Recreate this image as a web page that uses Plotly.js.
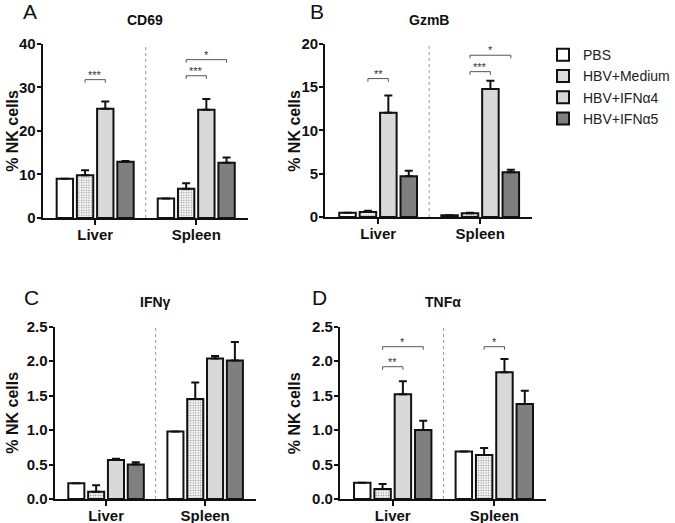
<!DOCTYPE html>
<html>
<head>
<meta charset="utf-8">
<script src="https://cdn.plot.ly/plotly-3.0.1.min.js"></script>
<style>
  html, body { margin: 0; padding: 0; background: #fff; }
  #plot { width: 675px; height: 523px; }
</style>
</head>
<body>
<div id="plot"></div>
<script>
  // categories and groups
  var tissues = ['Liver', 'Spleen'];
  var groups = ['PBS', 'HBV+Medium', 'HBV+IFN\u03b14', 'HBV+IFN\u03b15'];
  var panelTitles = ['CD69', 'GzmB', 'IFN\u03b3', 'TNF\u03b1'];
  var panelLetters = ['A', 'B', 'C', 'D'];

  // mean values per group, [Liver, Spleen]
  var cd69 = [[9.0, 4.5], [9.8, 6.7], [25.1, 24.9], [12.9, 12.7]];
  var cd69Err = [[0, 0], [1.15, 1.3], [1.7, 2.45], [0.2, 1.2]];
  var gzmb = [[0.5, 0.19], [0.58, 0.42], [12.05, 14.8], [4.7, 5.16]];
  var gzmbErr = [[0, 0], [0.15, 0.08], [2.0, 0.95], [0.65, 0.3]];
  var ifng = [[0.23, 0.98], [0.105, 1.45], [0.565, 2.04], [0.5, 2.01]];
  var ifngErr = [[0, 0], [0.095, 0.24], [0.02, 0.035], [0.035, 0.27]];
  var tnfa = [[0.235, 0.69], [0.145, 0.64], [1.52, 1.84], [1.0, 1.38]];
  var tnfaErr = [[0, 0], [0.073, 0.1], [0.19, 0.19], [0.136, 0.19]];

  var yMax = [40, 20, 2.5, 2.5];
  var yStep = [10, 5, 0.5, 0.5];

  // significance: [tissue, from group, to group, level, stars]
  var sigA = [[0, 1, 2, 31.8, '***'], [1, 1, 2, 32.7, '***'], [1, 1, 3, 36.4, '*']];
  var sigB = [[0, 1, 2, 16.0, '**'], [1, 1, 2, 16.8, '***'], [1, 1, 3, 18.7, '*']];
  var sigC = [];
  var sigD = [[0, 1, 2, 1.92, '**'], [0, 1, 3, 2.21, '*'], [1, 1, 2, 2.21, '*']];

  var means = [cd69, gzmb, ifng, tnfa];
  var errs = [cd69Err, gzmbErr, ifngErr, tnfaErr];
  var sigs = [sigA, sigB, sigC, sigD];

  var fills = ['#ffffff', '#ffffff', '#d9d9d9', '#7f7f7f'];

  // subplot boxes in paper coords
  var xDom = [[0.0637, 0.3704], [0.4859, 0.7956], [0.0815, 0.3822], [0.5081, 0.8163]];
  var yDom = [[0.5832, 0.9159], [0.5851, 0.9159], [0.0459, 0.3753], [0.0459, 0.3753]];

  var FONT = 'Liberation Sans, Arial, sans-serif';
  var traces = [];
  var shapes = [];
  var annotations = [];
  var layout = {
    width: 675, height: 523,
    margin: {l: 0, r: 0, t: 0, b: 0},
    paper_bgcolor: '#fff', plot_bgcolor: 'rgba(0,0,0,0)',
    barmode: 'group', bargap: 0.2, bargroupgap: 0.19,
    font: {family: FONT, color: '#111'},
    showlegend: true,
    legend: {
      x: 0.812, y: 0.925, xanchor: 'left', yanchor: 'top',
      font: {family: FONT, size: 14, color: '#222'},
      tracegroupgap: 0, bgcolor: 'rgba(0,0,0,0)'
    }
  };

  function groupOffset(g) { return -0.3 + 0.2 * g; }

  for (var p = 0; p < 4; p++) {
    var sfx = p === 0 ? '' : String(p + 1);
    var xa = 'x' + sfx, ya = 'y' + sfx;

    for (var g = 0; g < groups.length; g++) {
      var marker = {color: fills[g], line: {color: '#111', width: 2}};
      if (g === 1) {
        marker.pattern = {shape: '.', fgcolor: '#9a9a9a', bgcolor: '#ffffff', size: 2.5, solidity: 0.35};
      }
      traces.push({
        type: 'bar', name: groups[g], legendgroup: groups[g],
        showlegend: p === 0,
        x: [0, 1], y: means[p][g],
        xaxis: xa, yaxis: ya,
        marker: marker,
        error_y: {
          type: 'data', symmetric: false,
          array: errs[p][g], arrayminus: [0, 0],
          visible: true, color: '#111', thickness: 2, width: 4
        },
        hoverinfo: 'skip'
      });
    }

    layout['xaxis' + sfx] = {
      domain: xDom[p], anchor: ya,
      range: [-0.52, 1.51], fixedrange: true,
      tickvals: [0, 1], ticktext: tissues,
      ticks: 'outside', ticklen: 5, tickwidth: 2, tickcolor: '#111',
      ticklabelstandoff: -3,
      showline: true, linewidth: 2, linecolor: '#111',
      showgrid: false, zeroline: false,
      tickfont: {family: FONT, size: 15, weight: 'bold', color: '#111'}
    };
    layout['yaxis' + sfx] = {
      domain: yDom[p], anchor: xa,
      range: [0, yMax[p]], fixedrange: true,
      dtick: yStep[p], tick0: 0,
      tickformat: yStep[p] < 1 ? '.1f' : 'd',
      ticks: 'outside', ticklen: 4, tickwidth: 2, tickcolor: '#111',
      ticklabelstandoff: -2,
      showline: true, linewidth: 2, linecolor: '#111',
      showgrid: false, zeroline: false,
      tickfont: {family: FONT, size: 15, weight: 'bold', color: '#111'}
    };

    // dotted separator between tissues
    shapes.push({
      type: 'line', xref: xa, yref: ya + ' domain',
      x0: 0.5, x1: 0.5, y0: 0, y1: 1,
      line: {color: '#999', width: 1, dash: 'dot'}
    });

    // significance brackets
    var drop = yMax[p] * 0.018;
    sigs[p].forEach(function (s) {
      var x0 = s[0] + groupOffset(s[1]);
      var x1 = s[0] + groupOffset(s[2]);
      var yl = s[3];
      shapes.push({
        type: 'path', xref: xa, yref: ya,
        path: 'M' + x0 + ',' + (yl - drop) + ' L' + x0 + ',' + yl +
              ' L' + x1 + ',' + yl + ' L' + x1 + ',' + (yl - drop),
        line: {color: '#555', width: 1}
      });
      annotations.push({
        xref: xa, yref: ya, x: (x0 + x1) / 2, y: yl,
        text: s[4], showarrow: false, yanchor: 'bottom', yshift: -3,
        font: {family: FONT, size: 11, color: '#333'}
      });
    });

    // panel title
    annotations.push({
      xref: 'paper', yref: 'paper',
      x: (xDom[p][0] + xDom[p][1]) / 2, y: p < 2 ? 1 - 20 / 523 : 1 - 302 / 523,
      text: panelTitles[p], showarrow: false, xanchor: 'center', yanchor: 'middle',
      font: {family: FONT, size: 14, weight: 'bold', color: '#111'}
    });
    // panel letter
    annotations.push({
      xref: 'paper', yref: 'paper',
      x: [30, 320, 32, 322][p] / 675, y: p < 2 ? 1 - 11 / 523 : 1 - 297 / 523,
      text: panelLetters[p], showarrow: false, xanchor: 'center', yanchor: 'middle',
      font: {family: FONT, size: 21, color: '#111'}
    });
    // y axis title
    annotations.push({
      xref: 'paper', yref: 'paper',
      x: [13, 297, 13, 297][p] / 675, y: (yDom[p][0] + yDom[p][1]) / 2,
      text: '% NK cells', showarrow: false, textangle: -90,
      xanchor: 'center', yanchor: 'middle',
      font: {family: FONT, size: 16, weight: 'bold', color: '#111'}
    });
  }

  layout.shapes = shapes;
  layout.annotations = annotations;

  Plotly.newPlot('plot', traces, layout, {staticPlot: true, displayModeBar: false});
</script>
</body>
</html>
